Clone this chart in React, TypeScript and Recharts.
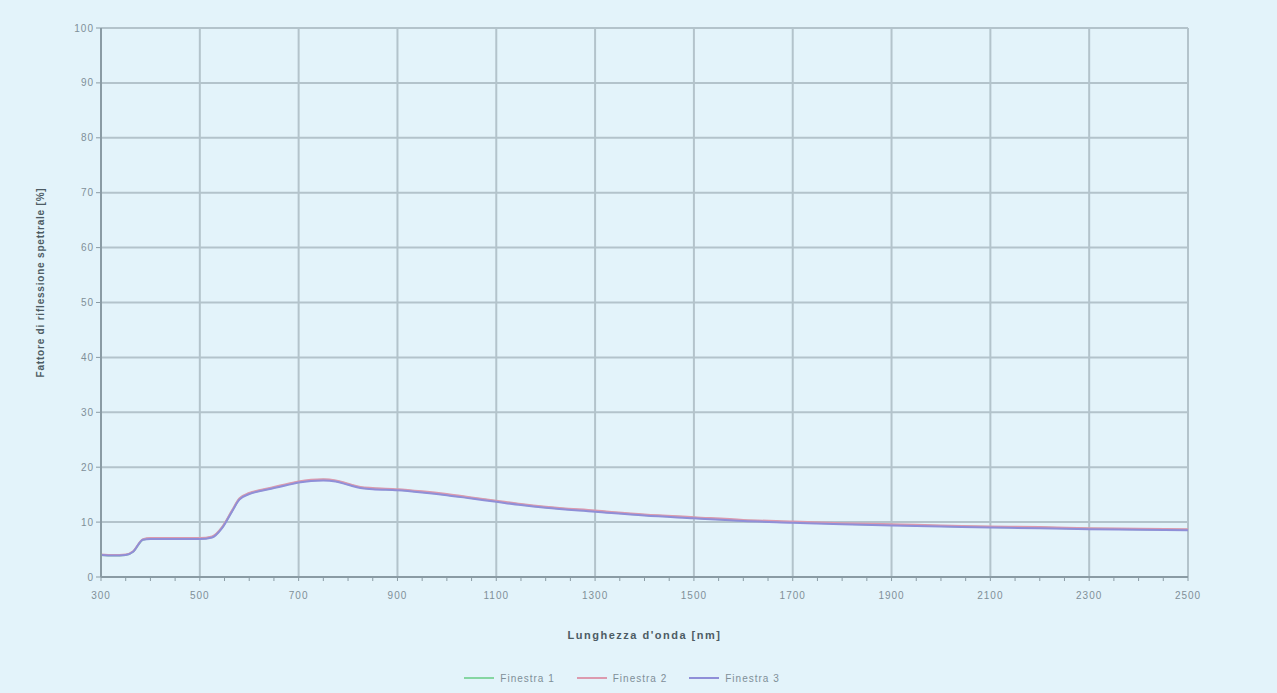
import { LineChart, Line, XAxis, YAxis, CartesianGrid, Legend, Label } from 'recharts';

// Lunghezza d'onda [nm]
const wavelengths = [
  300, 325, 350, 365, 385, 400, 450, 500, 525, 545, 565, 580, 600, 625, 650, 675, 700, 725, 750, 775,
  800, 825, 850, 900, 950, 1000, 1050, 1100, 1150, 1200, 1300, 1400, 1500, 1600, 1700, 1800, 1900,
  2000, 2100, 2200, 2300, 2400, 2500,
];

const serie1 = [
  4.0, 3.9, 4.0, 4.6, 6.8, 7.0, 7.0, 7.0, 7.3, 9.0, 12.0, 14.2, 15.2, 15.8, 16.3, 16.8, 17.3, 17.6, 17.7, 17.5,
  16.9, 16.3, 16.1, 15.9, 15.5, 15.0, 14.4, 13.8, 13.2, 12.7, 12.0, 11.3, 10.8, 10.3, 10.0, 9.7, 9.5,
  9.3, 9.1, 9.0, 8.8, 8.7, 8.6,
];

const serie2 = [
  4.1, 4.0, 4.1, 4.7, 6.9, 7.1, 7.1, 7.1, 7.4, 9.1, 12.1, 14.3, 15.3, 15.9, 16.4, 16.9, 17.4, 17.7, 17.8, 17.6,
  17.0, 16.4, 16.2, 16.0, 15.6, 15.1, 14.5, 13.9, 13.3, 12.8, 12.1, 11.4, 10.9, 10.4, 10.1, 9.8, 9.6,
  9.4, 9.2, 9.1, 8.9, 8.8, 8.7,
];

const serie3 = [
  4.0, 3.9, 4.0, 4.6, 6.8, 6.9, 6.9, 6.9, 7.2, 8.9, 11.9, 14.1, 15.1, 15.7, 16.2, 16.7, 17.2, 17.5, 17.6, 17.4,
  16.8, 16.2, 16.0, 15.8, 15.4, 14.9, 14.3, 13.7, 13.1, 12.6, 11.9, 11.2, 10.7, 10.2, 9.9, 9.6, 9.4,
  9.2, 9.0, 8.9, 8.7, 8.6, 8.5,
];

const xTicks = [300, 500, 700, 900, 1100, 1300, 1500, 1700, 1900, 2100, 2300, 2500];
const xMinorTicks = Array.from({ length: 45 }, (_, i) => 300 + i * 50);
const yTicks = [0, 10, 20, 30, 40, 50, 60, 70, 80, 90, 100];

const seriesNames = ['Finestra 1', 'Finestra 2', 'Finestra 3'];
const COLORS = ['#86d6a2', '#dc9aae', '#8f8fd8'];

const data = wavelengths.map((wl, i) => ({
  wl,
  s1: serie1[i],
  s2: serie2[i],
  s3: serie3[i],
}));

const FONT = 'Liberation Sans, Arial, sans-serif';
const tickStyle = { fontSize: 10, fill: '#7f8f98', letterSpacing: 1, fontFamily: FONT };

const CustomLegend = () => (
  <div style={{ display: 'flex', justifyContent: 'center', gap: 22, fontFamily: FONT, height: 14 }}>
    {seriesNames.map((name, i) => (
      <div key={name} style={{ display: 'flex', alignItems: 'center', gap: 6 }}>
        <div style={{ width: 30, height: 2, background: COLORS[i] }} />
        <span style={{ fontSize: 10, color: '#7f8f98', letterSpacing: 1 }}>{name}</span>
      </div>
    ))}
  </div>
);

export default function App() {
  return (
    <div style={{ position: 'fixed', top: 0, left: 0, width: 1277, height: 693, background: '#e3f3fa' }}>
      <LineChart width={1277} height={693} data={data} margin={{ top: 28, right: 89, bottom: 42, left: 56 }}>
        <CartesianGrid xAxisId="major" stroke="#b3c3cb" strokeWidth={2} />
        <XAxis xAxisId="major" dataKey="wl" type="number" domain={[300, 2500]} ticks={xTicks} hide />
        <XAxis
          xAxisId="main"
          dataKey="wl"
          type="number"
          domain={[300, 2500]}
          ticks={xMinorTicks}
          interval={0}
          tickFormatter={(v: number) => (xTicks.includes(v) ? String(v) : '')}
          tick={tickStyle}
          tickSize={4}
          tickMargin={11}
          axisLine={{ stroke: '#8a9ba4', strokeWidth: 2 }}
          tickLine={{ stroke: '#8a9ba4' }}
          height={60}
        >
          <Label
            value="Lunghezza d'onda [nm]"
            position="insideBottom"
            offset={-2}
            style={{ fontSize: 11, fontWeight: 'bold', fill: '#4d5c64', letterSpacing: 1.5, fontFamily: FONT }}
          />
        </XAxis>
        <YAxis
          domain={[0, 100]}
          ticks={yTicks}
          interval={0}
          tick={tickStyle}
          tickSize={5}
          width={45}
          axisLine={{ stroke: '#8a9ba4', strokeWidth: 2 }}
          tickLine={{ stroke: '#8a9ba4' }}
        >
          <Label
            value="Fattore di riflessione spettrale [%]"
            angle={-90}
            position="insideLeft"
            offset={-16}
            dy={-20}
            style={{ textAnchor: 'middle', fontSize: 10, fontWeight: 'bold', fill: '#4d5c64', letterSpacing: 0.8, fontFamily: FONT }}
          />
        </YAxis>
        <Legend content={<CustomLegend />} verticalAlign="bottom" wrapperStyle={{ bottom: 8 }} />
        <Line xAxisId="main" type="monotone" dataKey="s1" stroke={COLORS[0]} strokeWidth={2} dot={false} isAnimationActive={false} />
        <Line xAxisId="main" type="monotone" dataKey="s2" stroke={COLORS[1]} strokeWidth={2} dot={false} isAnimationActive={false} />
        <Line xAxisId="main" type="monotone" dataKey="s3" stroke={COLORS[2]} strokeWidth={2} dot={false} isAnimationActive={false} />
      </LineChart>
    </div>
  );
}
